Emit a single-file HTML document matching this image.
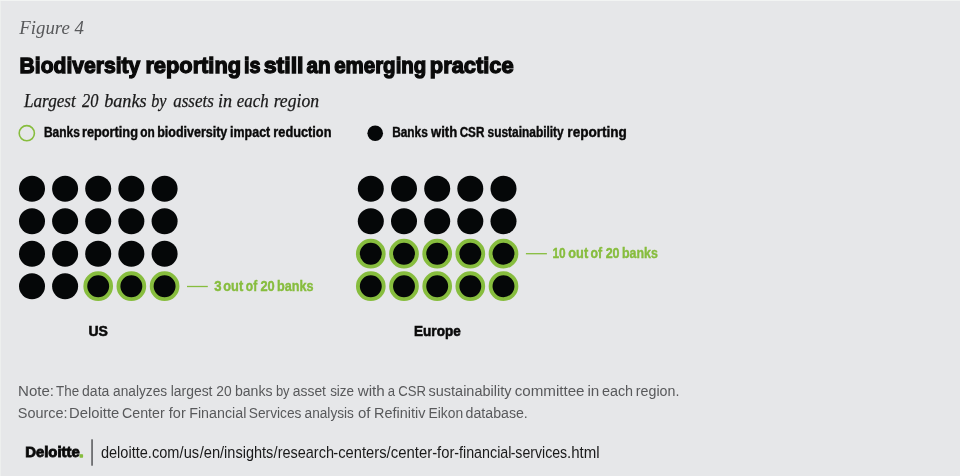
<!DOCTYPE html>
<html lang="en"><head><meta charset="utf-8"><title>Figure 4</title>
<style>
html,body{margin:0;padding:0;background:#e6e7e9;}
body{width:960px;height:476px;overflow:hidden;}
svg{display:block;}
text{font-family:"Liberation Sans",sans-serif;white-space:pre;}
.serif{font-family:"Liberation Serif",serif;font-style:italic;}
.b{font-weight:bold;}
</style></head><body>
<svg width="960" height="476" viewBox="0 0 960 476">
<rect width="960" height="476" fill="#e6e7e9"/>
<rect x="0" y="0" width="960" height="1" fill="#f2f4f3"/>
<rect x="0" y="1" width="1" height="475" fill="#edefee"/>
<circle cx="26.8" cy="133.2" r="7.6" fill="none" stroke="#87bd3e" stroke-width="1.6"/>
<circle cx="375.2" cy="133.2" r="7.8" fill="#050708"/>
<g id="us-dots">
<circle cx="32.0" cy="188.7" r="13" fill="#050708"/>
<circle cx="65.1" cy="188.7" r="13" fill="#050708"/>
<circle cx="98.2" cy="188.7" r="13" fill="#050708"/>
<circle cx="131.35" cy="188.7" r="13" fill="#050708"/>
<circle cx="164.6" cy="188.7" r="13" fill="#050708"/>
<circle cx="32.0" cy="221.3" r="13" fill="#050708"/>
<circle cx="65.1" cy="221.3" r="13" fill="#050708"/>
<circle cx="98.2" cy="221.3" r="13" fill="#050708"/>
<circle cx="131.35" cy="221.3" r="13" fill="#050708"/>
<circle cx="164.6" cy="221.3" r="13" fill="#050708"/>
<circle cx="32.0" cy="253.7" r="13" fill="#050708"/>
<circle cx="65.1" cy="253.7" r="13" fill="#050708"/>
<circle cx="98.2" cy="253.7" r="13" fill="#050708"/>
<circle cx="131.35" cy="253.7" r="13" fill="#050708"/>
<circle cx="164.6" cy="253.7" r="13" fill="#050708"/>
<circle cx="32.0" cy="286.2" r="13" fill="#050708"/>
<circle cx="65.1" cy="286.2" r="13" fill="#050708"/>
<circle cx="98.2" cy="286.2" r="12.9" fill="#050708" stroke="#87bd3e" stroke-width="3.9"/>
<circle cx="131.35" cy="286.2" r="12.9" fill="#050708" stroke="#87bd3e" stroke-width="3.9"/>
<circle cx="164.6" cy="286.2" r="12.9" fill="#050708" stroke="#87bd3e" stroke-width="3.9"/>
</g>
<g id="eu-dots">
<circle cx="370.8" cy="188.7" r="13" fill="#050708"/>
<circle cx="404.0" cy="188.7" r="13" fill="#050708"/>
<circle cx="437.2" cy="188.7" r="13" fill="#050708"/>
<circle cx="470.3" cy="188.7" r="13" fill="#050708"/>
<circle cx="503.5" cy="188.7" r="13" fill="#050708"/>
<circle cx="370.8" cy="221.3" r="13" fill="#050708"/>
<circle cx="404.0" cy="221.3" r="13" fill="#050708"/>
<circle cx="437.2" cy="221.3" r="13" fill="#050708"/>
<circle cx="470.3" cy="221.3" r="13" fill="#050708"/>
<circle cx="503.5" cy="221.3" r="13" fill="#050708"/>
<circle cx="370.8" cy="253.7" r="12.9" fill="#050708" stroke="#87bd3e" stroke-width="3.9"/>
<circle cx="404.0" cy="253.7" r="12.9" fill="#050708" stroke="#87bd3e" stroke-width="3.9"/>
<circle cx="437.2" cy="253.7" r="12.9" fill="#050708" stroke="#87bd3e" stroke-width="3.9"/>
<circle cx="470.3" cy="253.7" r="12.9" fill="#050708" stroke="#87bd3e" stroke-width="3.9"/>
<circle cx="503.5" cy="253.7" r="12.9" fill="#050708" stroke="#87bd3e" stroke-width="3.9"/>
<circle cx="370.8" cy="286.2" r="12.9" fill="#050708" stroke="#87bd3e" stroke-width="3.9"/>
<circle cx="404.0" cy="286.2" r="12.9" fill="#050708" stroke="#87bd3e" stroke-width="3.9"/>
<circle cx="437.2" cy="286.2" r="12.9" fill="#050708" stroke="#87bd3e" stroke-width="3.9"/>
<circle cx="470.3" cy="286.2" r="12.9" fill="#050708" stroke="#87bd3e" stroke-width="3.9"/>
<circle cx="503.5" cy="286.2" r="12.9" fill="#050708" stroke="#87bd3e" stroke-width="3.9"/>
</g>
<rect x="187" y="285.85" width="20.8" height="1.3" fill="#87bd3e"/>
<rect x="525.9" y="253.05" width="21" height="1.3" fill="#87bd3e"/>
<rect x="91.35" y="439.3" width="1.4" height="26.4" fill="#4a4b4d"/>
<text class="serif" y="34.0" font-size="19" fill="#58595b" x="19.31" textLength="64.66" lengthAdjust="spacingAndGlyphs"><tspan>Figure 4</tspan></text>
<text class="b" y="72.6" font-size="22.5" fill="#0a0a0a" stroke="#0a0a0a" stroke-width="1.3"><tspan x="19.61" textLength="120.75" lengthAdjust="spacingAndGlyphs">Biodiversity</tspan> <tspan x="145.39" textLength="95.70" lengthAdjust="spacingAndGlyphs">reporting</tspan> <tspan x="243.90" textLength="16.58" lengthAdjust="spacingAndGlyphs">is</tspan> <tspan x="263.68" textLength="39.85" lengthAdjust="spacingAndGlyphs">still</tspan> <tspan x="306.48" textLength="24.08" lengthAdjust="spacingAndGlyphs">an</tspan> <tspan x="334.17" textLength="92.19" lengthAdjust="spacingAndGlyphs">emerging</tspan> <tspan x="429.79" textLength="83.90" lengthAdjust="spacingAndGlyphs">practice</tspan></text>
<text class="serif" y="106.8" font-size="19" fill="#1a1a1a" stroke="#1a1a1a" stroke-width="0.25"><tspan x="23.99" textLength="51.81" lengthAdjust="spacingAndGlyphs">Largest</tspan> <tspan x="82.03" textLength="16.43" lengthAdjust="spacingAndGlyphs">20</tspan> <tspan x="104.14" textLength="42.41" lengthAdjust="spacingAndGlyphs">banks</tspan> <tspan x="151.16" textLength="15.25" lengthAdjust="spacingAndGlyphs">by</tspan> <tspan x="173.16" textLength="40.65" lengthAdjust="spacingAndGlyphs">assets</tspan> <tspan x="217.99" textLength="14.09" lengthAdjust="spacingAndGlyphs">in</tspan> <tspan x="236.76" textLength="31.87" lengthAdjust="spacingAndGlyphs">each</tspan> <tspan x="273.67" textLength="45.36" lengthAdjust="spacingAndGlyphs">region</tspan></text>
<text class="b" y="136.9" font-size="14" fill="#0a0a0a" stroke="#0a0a0a" stroke-width="0.4"><tspan x="43.98" textLength="35.82" lengthAdjust="spacingAndGlyphs">Banks</tspan> <tspan x="81.96" textLength="56.00" lengthAdjust="spacingAndGlyphs">reporting</tspan> <tspan x="140.25" textLength="14.49" lengthAdjust="spacingAndGlyphs">on</tspan> <tspan x="157.17" textLength="70.13" lengthAdjust="spacingAndGlyphs">biodiversity</tspan> <tspan x="230.12" textLength="40.07" lengthAdjust="spacingAndGlyphs">impact</tspan> <tspan x="273.36" textLength="58.06" lengthAdjust="spacingAndGlyphs">reduction</tspan></text>
<text class="b" y="136.9" font-size="14" fill="#0a0a0a" stroke="#0a0a0a" stroke-width="0.4"><tspan x="392.13" textLength="35.73" lengthAdjust="spacingAndGlyphs">Banks</tspan> <tspan x="430.97" textLength="26.18" lengthAdjust="spacingAndGlyphs">with</tspan> <tspan x="459.69" textLength="24.66" lengthAdjust="spacingAndGlyphs">CSR</tspan> <tspan x="487.52" textLength="76.21" lengthAdjust="spacingAndGlyphs">sustainability</tspan> <tspan x="567.36" textLength="59.56" lengthAdjust="spacingAndGlyphs">reporting</tspan></text>
<text class="b" y="290.9" font-size="14.8" fill="#87bd3e" stroke="#87bd3e" stroke-width="0.4"><tspan x="214.33" textLength="7.33" lengthAdjust="spacingAndGlyphs">3</tspan> <tspan x="223.27" textLength="19.88" lengthAdjust="spacingAndGlyphs">out</tspan> <tspan x="245.85" textLength="11.34" lengthAdjust="spacingAndGlyphs">of</tspan> <tspan x="260.40" textLength="14.26" lengthAdjust="spacingAndGlyphs">20</tspan> <tspan x="276.98" textLength="36.45" lengthAdjust="spacingAndGlyphs">banks</tspan></text>
<text class="b" y="258.0" font-size="14.8" fill="#87bd3e" stroke="#87bd3e" stroke-width="0.4"><tspan x="552.43" textLength="13.16" lengthAdjust="spacingAndGlyphs">10</tspan> <tspan x="568.27" textLength="19.88" lengthAdjust="spacingAndGlyphs">out</tspan> <tspan x="590.59" textLength="11.65" lengthAdjust="spacingAndGlyphs">of</tspan> <tspan x="605.68" textLength="13.91" lengthAdjust="spacingAndGlyphs">20</tspan> <tspan x="621.93" textLength="35.91" lengthAdjust="spacingAndGlyphs">banks</tspan></text>
<text class="b" y="335.6" font-size="15.3" fill="#0a0a0a" stroke="#0a0a0a" stroke-width="0.6" x="88.38" textLength="19.46" lengthAdjust="spacingAndGlyphs"><tspan>US</tspan></text>
<text class="b" y="335.5" font-size="15.5" fill="#0a0a0a" stroke="#0a0a0a" stroke-width="0.6" x="414.12" textLength="46.55" lengthAdjust="spacingAndGlyphs"><tspan>Europe</tspan></text>
<text y="396.0" font-size="15.5" fill="#58595b"><tspan x="18.10" textLength="35.97" lengthAdjust="spacingAndGlyphs">Note:</tspan> <tspan x="56.05" textLength="23.02" lengthAdjust="spacingAndGlyphs">The</tspan> <tspan x="82.05" textLength="27.28" lengthAdjust="spacingAndGlyphs">data</tspan> <tspan x="113.08" textLength="54.08" lengthAdjust="spacingAndGlyphs">analyzes</tspan> <tspan x="170.71" textLength="41.78" lengthAdjust="spacingAndGlyphs">largest</tspan> <tspan x="216.33" textLength="15.34" lengthAdjust="spacingAndGlyphs">20</tspan> <tspan x="234.88" textLength="37.62" lengthAdjust="spacingAndGlyphs">banks</tspan> <tspan x="275.88" textLength="13.71" lengthAdjust="spacingAndGlyphs">by</tspan> <tspan x="292.81" textLength="33.17" lengthAdjust="spacingAndGlyphs">asset</tspan> <tspan x="330.13" textLength="23.92" lengthAdjust="spacingAndGlyphs">size</tspan> <tspan x="357.73" textLength="27.10" lengthAdjust="spacingAndGlyphs">with</tspan> <tspan x="387.78" textLength="7.30" lengthAdjust="spacingAndGlyphs">a</tspan> <tspan x="398.33" textLength="27.80" lengthAdjust="spacingAndGlyphs">CSR</tspan> <tspan x="428.53" textLength="82.97" lengthAdjust="spacingAndGlyphs">sustainability</tspan> <tspan x="514.65" textLength="69.88" lengthAdjust="spacingAndGlyphs">committee</tspan> <tspan x="587.45" textLength="11.86" lengthAdjust="spacingAndGlyphs">in</tspan> <tspan x="601.92" textLength="31.18" lengthAdjust="spacingAndGlyphs">each</tspan> <tspan x="635.83" textLength="43.54" lengthAdjust="spacingAndGlyphs">region.</tspan></text>
<text y="418.4" font-size="15.5" fill="#58595b"><tspan x="17.76" textLength="49.83" lengthAdjust="spacingAndGlyphs">Source:</tspan> <tspan x="69.12" textLength="50.11" lengthAdjust="spacingAndGlyphs">Deloitte</tspan> <tspan x="122.04" textLength="42.66" lengthAdjust="spacingAndGlyphs">Center</tspan> <tspan x="168.81" textLength="16.93" lengthAdjust="spacingAndGlyphs">for</tspan> <tspan x="189.21" textLength="57.11" lengthAdjust="spacingAndGlyphs">Financial</tspan> <tspan x="248.84" textLength="52.63" lengthAdjust="spacingAndGlyphs">Services</tspan> <tspan x="304.61" textLength="49.27" lengthAdjust="spacingAndGlyphs">analysis</tspan> <tspan x="358.04" textLength="12.50" lengthAdjust="spacingAndGlyphs">of</tspan> <tspan x="374.10" textLength="51.27" lengthAdjust="spacingAndGlyphs">Refinitiv</tspan> <tspan x="428.56" textLength="34.60" lengthAdjust="spacingAndGlyphs">Eikon</tspan> <tspan x="465.59" textLength="62.22" lengthAdjust="spacingAndGlyphs">database.</tspan></text>
<text class="b" y="456.7" font-size="13.8" fill="#0a0a0a" stroke="#0a0a0a" stroke-width="0.8"><tspan x="25.21" textLength="54.54" lengthAdjust="spacingAndGlyphs">Deloitte</tspan><tspan fill="#87bd3e" stroke="#87bd3e" stroke-width="1.3" stroke-linejoin="round" x="79.24" textLength="4.16" lengthAdjust="spacingAndGlyphs">.</tspan></text>
<text y="457.8" font-size="16.3" fill="#1a1a1a"><tspan x="100.93" textLength="78.47" lengthAdjust="spacingAndGlyphs">deloitte.com</tspan><tspan x="179.60" textLength="19.52" lengthAdjust="spacingAndGlyphs">/us</tspan><tspan x="199.73" textLength="20.46" lengthAdjust="spacingAndGlyphs">/en</tspan><tspan x="220.08" textLength="53.25" lengthAdjust="spacingAndGlyphs">/insights</tspan><tspan x="273.61" textLength="60.34" lengthAdjust="spacingAndGlyphs">/research</tspan><tspan x="333.36" textLength="53.15" lengthAdjust="spacingAndGlyphs">-centers</tspan><tspan x="386.57" textLength="45.61" lengthAdjust="spacingAndGlyphs">/center</tspan><tspan x="432.20" textLength="22.18" lengthAdjust="spacingAndGlyphs">-for</tspan><tspan x="454.23" textLength="57.24" lengthAdjust="spacingAndGlyphs">-financial</tspan><tspan x="510.64" textLength="56.54" lengthAdjust="spacingAndGlyphs">-services</tspan><tspan x="567.06" textLength="32.61" lengthAdjust="spacingAndGlyphs">.html</tspan></text>
</svg>
</body></html>
